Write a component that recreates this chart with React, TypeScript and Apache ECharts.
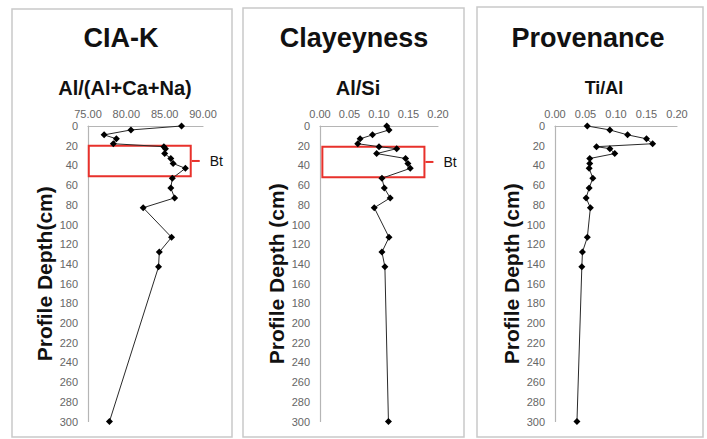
import React, { useEffect, useRef } from 'react';
import * as echarts from 'echarts';

// ---- data ----
const depths = [0, 4, 9, 13, 18, 21, 23, 28, 33, 38, 43, 53, 63, 73, 83, 113, 128, 143, 300];
const ciaK = [87.2, 80.6, 77.1, 78.7, 78.3, 84.9, 85.1, 85.0, 85.8, 86.1, 87.7, 86.0, 85.8, 86.3, 82.2, 85.9, 84.3, 84.2, 77.8];
const alSi = [0.113, 0.117, 0.089, 0.068, 0.064, 0.1, 0.13, 0.096, 0.145, 0.149, 0.153, 0.105, 0.109, 0.119, 0.092, 0.117, 0.105, 0.11, 0.116];
const tiAl = [0.053, 0.09, 0.119, 0.15, 0.16, 0.068, 0.09, 0.098, 0.057, 0.057, 0.056, 0.062, 0.056, 0.051, 0.058, 0.053, 0.045, 0.044, 0.036];

const panelTitles = ['CIA-K', 'Clayeyness', 'Provenance'];
const panelSubtitles = ['Al/(Al+Ca+Na)', 'Al/Si', 'Ti/Al'];
const depthAxisNames = ['Profile Depth(cm)', 'Profile Depth (cm)', 'Profile Depth (cm)'];
const xMins = [75, 0, 0];
const xMaxs = [90, 0.2, 0.2];
const xIntervals = [5, 0.05, 0.05];
const depthMin = 0;
const depthMax = 300;
const depthInterval = 20;
const btLabel = 'Bt';
const btBoxX = [[75.1, 88.4], [0.004, 0.177], null];
const btBoxDepth = [[20, 51], [21, 52], null];

// ---- layout ----
const FONT = '"Liberation Sans", Arial, Helvetica, sans-serif';
const panels = [
  { x: 12, y: 9, w: 220, h: 428, tx: 121, sx: 125 },
  { x: 243, y: 8, w: 221, h: 429, tx: 354, sx: 358 },
  { x: 477, y: 7, w: 226, h: 430, tx: 588, sx: 604 },
];
const grids = [
  { left: 88, top: 126, width: 115, height: 295.5 },
  { left: 320, top: 126, width: 118, height: 295.5 },
  { left: 555, top: 126, width: 122, height: 295.5 },
];
const subSizes = [20, 20, 18];

export default function App() {
  const ref = useRef<HTMLDivElement>(null);

  useEffect(() => {
    if (!ref.current) return;
    const chart = echarts.init(ref.current, undefined, { renderer: 'svg' });
    const seriesVals = [ciaK, alSi, tiAl];
    const red = '#e8312b';

    const graphic: any[] = [];
    panels.forEach((p, i) => {
      graphic.push({
        type: 'rect',
        shape: { x: p.x, y: p.y, width: p.w, height: p.h },
        style: { fill: '#fff', stroke: '#c9c9c9', lineWidth: 1.5 },
        z: -10,
      });
      graphic.push({
        type: 'text',
        x: p.tx,
        y: 38,
        style: {
          text: panelTitles[i],
          fontSize: 27,
          fontWeight: 'bold',
          fontFamily: FONT,
          fill: '#111',
          align: 'center',
          verticalAlign: 'middle',
        },
      });
      graphic.push({
        type: 'text',
        x: p.sx,
        y: 88,
        style: {
          text: panelSubtitles[i],
          fontSize: subSizes[i],
          fontWeight: 'bold',
          fontFamily: FONT,
          fill: '#111',
          align: 'center',
          verticalAlign: 'middle',
        },
      });
    });

    const option: any = {
      animation: false,
      backgroundColor: '#fff',
      graphic,
      grid: grids.map((g) => ({ ...g, containLabel: false })),
      xAxis: grids.map((_, i) => ({
        type: 'value',
        gridIndex: i,
        position: 'top',
        min: xMins[i],
        max: xMaxs[i],
        interval: xIntervals[i],
        axisLine: { show: true, lineStyle: { color: '#b5b5b5', width: 1.2 } },
        axisTick: { show: false },
        splitLine: { show: false },
        axisLabel: {
          show: true,
          color: '#666',
          fontSize: 11,
          fontFamily: FONT,
          margin: 7,
          showMaxLabel: true,
          showMinLabel: true,
          formatter: (v: number) => v.toFixed(2),
        },
      })),
      yAxis: grids.map((_, i) => ({
        type: 'value',
        gridIndex: i,
        inverse: true,
        min: depthMin,
        max: depthMax,
        interval: depthInterval,
        name: depthAxisNames[i],
        nameLocation: 'middle',
        nameRotate: 90,
        nameGap: 33,
        nameTextStyle: { fontSize: 21, fontWeight: 'bold', fontFamily: FONT, color: '#111' },
        axisLine: { show: true, lineStyle: { color: '#b5b5b5', width: 1.2 } },
        axisTick: { show: false },
        splitLine: { show: false },
        axisLabel: { color: '#666', fontSize: 11, fontFamily: FONT, margin: 10 },
      })),
      series: seriesVals.map((vals, i) => {
        const s: any = {
          type: 'line',
          xAxisIndex: i,
          yAxisIndex: i,
          data: vals.map((v, j) => [v, depths[j]]),
          symbol: 'diamond',
          symbolSize: 7,
          showAllSymbol: true,
          lineStyle: { color: '#2a2a2a', width: 1 },
          itemStyle: { color: '#000' },
          emphasis: { disabled: true },
          clip: false,
          z: 3,
        };
        const bx = btBoxX[i];
        const bd = btBoxDepth[i];
        if (bx && bd) {
          s.markArea = {
            silent: true,
            emphasis: { disabled: true },
            itemStyle: { color: 'rgba(0,0,0,0)', borderColor: red, borderWidth: 2 },
            label: {
              show: true,
              position: 'right',
              distance: 0,
              formatter: '{l| }{t|' + btLabel + '}',
              rich: {
                l: { width: 8, height: 2, backgroundColor: red },
                t: { fontSize: 14, color: '#111', fontFamily: FONT, padding: [0, 0, 0, 10] },
              },
            },
            data: [[{ coord: [bx[0], bd[0]] }, { coord: [bx[1], bd[1]] }]],
          };
        }
        return s;
      }),
    };
    chart.setOption(option);
    return () => chart.dispose();
  }, []);

  return (
    <div
      ref={ref}
      style={{ position: 'fixed', left: 0, top: 0, width: 707, height: 439, background: '#fff' }}
    />
  );
}
